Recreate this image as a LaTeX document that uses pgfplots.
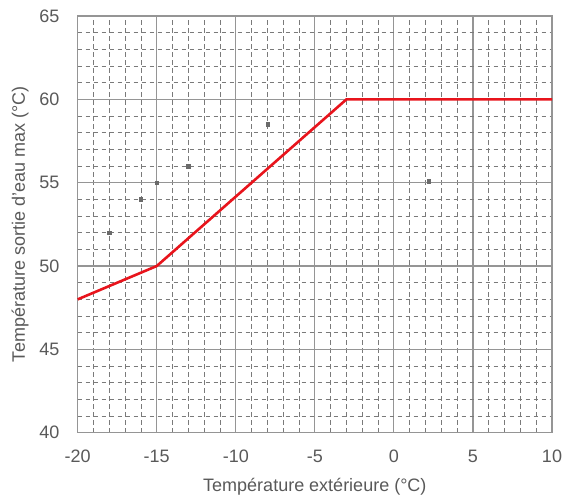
\documentclass[border=0pt]{standalone}
\usepackage{pgfplots}
\pgfplotsset{compat=1.18}
\usepackage{fontspec}
\setmainfont{Liberation Sans}
\definecolor{txt}{HTML}{595959}
\definecolor{majg}{HTML}{959595}
\definecolor{ming}{HTML}{7A7A7A}
\definecolor{redl}{HTML}{E8141C}
\definecolor{markg}{HTML}{6A6A6A}
\begin{document}
\begin{tikzpicture}
\path[use as bounding box] (-77.7pt,-66.3pt) rectangle (486.3pt,432.7pt);
\begin{axis}[
  at={(0,0)}, anchor=south west,
  scale only axis, width=474.3pt, height=416.7pt,
  xmin=-20, xmax=10, ymin=40, ymax=65,
  xtick={-20,-15,...,10}, ytick={40,45,...,65},
  minor tick num=4,
  major tick length=0pt, minor tick length=0pt,
  grid=both,
  major grid style={majg, line width=1.1pt},
  minor grid style={ming, line width=0.75pt, dash pattern=on 4.5pt off 3.5pt},
  axis line style={majg, line width=1.1pt},
  /pgf/number format/assume math mode=true,
  tick label style={font=\fontsize{18}{21}\selectfont, text=txt},
  yticklabel style={anchor=east, inner sep=0pt, xshift=-18pt},
  xticklabel style={anchor=north, inner sep=0pt, yshift=-17pt},
  every axis y label/.style={at={(rel axis cs:0,0.5)}, xshift=-57.7pt, rotate=90, anchor=center, font=\fontsize{18}{21}\selectfont, text=txt},
  every axis x label/.style={at={(rel axis cs:0.5,0)}, yshift=-54.3pt, anchor=center, font=\fontsize{18}{21}\selectfont, text=txt},
  xlabel={Température extérieure (°C)},
  ylabel={Température sortie d'eau max (°C)},
  clip=false,
]
\addplot[only marks, mark=square*, mark size=1.7pt, markg] coordinates {
  (-18,52) (-16,54) (-15,55) (-13,56) (-8,58.5) (2.2,55.1)
};
\addplot[redl, line width=2.6pt, line join=round] coordinates {
  (-20,48) (-15,50) (-3,60) (10,60)
};
\end{axis}
\end{tikzpicture}
\end{document}
